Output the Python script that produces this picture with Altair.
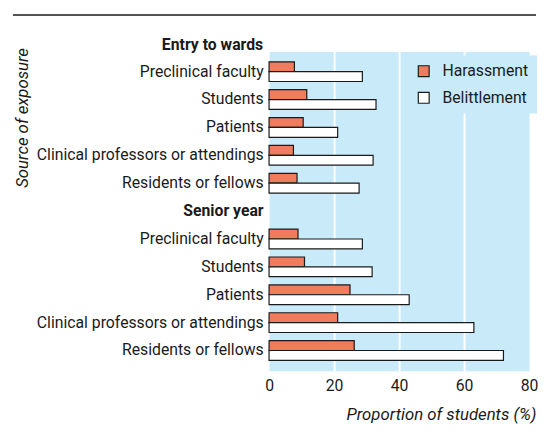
import altair as alt
import pandas as pd

FONT = "Roboto"
TEXT = "#1a1a1a"
BLUE = "#C8EAF9"
ORANGE = "#F07B5D"

groups = ["Entry to wards", "Senior year"]
sources = ["Preclinical faculty", "Students", "Patients",
           "Clinical professors or attendings", "Residents or fellows"]
series = ["Harassment", "Belittlement"]

harassment_entry = [7.8, 11.6, 10.5, 7.5, 8.6]
belittlement_entry = [28.7, 32.9, 21.1, 32.0, 27.7]
harassment_senior = [8.9, 10.9, 24.9, 21.1, 26.2]
belittlement_senior = [28.7, 31.7, 43.1, 63.0, 72.1]

x_ticks = [0, 20, 40, 60, 80]

rows = []
for g, hv, bv in [(groups[0], harassment_entry, belittlement_entry),
                  (groups[1], harassment_senior, belittlement_senior)]:
    for s, h, b in zip(sources, hv, bv):
        key = f"{g}|{s}"
        rows.append({"key": key, "series": series[0], "value": h})
        rows.append({"key": key, "series": series[1], "value": b})
df = pd.DataFrame(rows)

y_domain = ([f"{groups[0]}|{s}" for s in sources]
            + [f"{groups[1]}|{groups[1]}"]
            + [f"{groups[1]}|{s}" for s in sources])

bars = alt.Chart(df).mark_bar(stroke=TEXT, strokeWidth=1.2).encode(
    x=alt.X("value:Q",
            scale=alt.Scale(domain=[0, 80], nice=False),
            axis=alt.Axis(values=x_ticks, grid=True, gridColor="white", gridWidth=2,
                          gridOpacity=alt.ExprRef("datum.value > 0 && datum.value < 80 ? 1 : 0"),
                          domain=False, ticks=False, labelPadding=7, labelFlush=False,
                          labelFont=FONT, labelFontSize=16, labelColor=TEXT,
                          title="Proportion of students (%)",
                          titleFont=FONT, titleFontSize=17, titleFontStyle="italic",
                          titleFontWeight="normal", titleColor=TEXT,
                          titleX=271, titleY=45, titleAlign="right", titleBaseline="middle")),
    y=alt.Y("key:N", sort=None,
            scale=alt.Scale(domain=y_domain, paddingInner=0.293, paddingOuter=0.37),
            axis=alt.Axis(domain=False, ticks=False, grid=False, labelPadding=6,
                          labelExpr="split(datum.label, '|')[1]",
                          labelFontWeight=alt.ExprRef("indexof(datum.value, '|Senior year') >= 0 ? 'bold' : 'normal'"),
                          labelFont=FONT, labelFontSize=16, labelColor=TEXT, labelLimit=400,
                          title="Source of exposure",
                          titleFont=FONT, titleFontSize=17, titleFontStyle="italic",
                          titleFontWeight="normal", titleColor=TEXT,
                          titleX=-250, titleY=-4, titleAngle=270,
                          titleAlign="right", titleBaseline="middle")),
    yOffset=alt.YOffset("series:N", sort=series,
                        scale=alt.Scale(domain=series, paddingInner=0, paddingOuter=0)),
    color=alt.Color("series:N",
                    scale=alt.Scale(domain=series, range=[ORANGE, "white"]),
                    legend=alt.Legend(title=None, orient="none", legendX=141, legendY=4,
                                      fillColor=BLUE, padding=8, symbolType="square",
                                      symbolSize=121, symbolStrokeColor=TEXT,
                                      symbolStrokeWidth=1.2, labelFont=FONT,
                                      labelFontSize=16, labelColor=TEXT,
                                      labelOffset=11, rowPadding=11)),
)

header = alt.Chart(pd.DataFrame({"label": [groups[0]]})).mark_text(
    align="right", baseline="middle", font=FONT, fontSize=16,
    fontWeight="bold", color=TEXT
).encode(x=alt.value(-6), y=alt.value(-7), text="label:N")

top_rule = alt.Chart(pd.DataFrame({"a": [0]})).mark_rule(
    color=TEXT, strokeWidth=1.5
).encode(x=alt.value(-260), x2=alt.value(271), y=alt.value(-37))

chart = alt.layer(bars, header, top_rule).properties(
    width=264, height=324,
    padding={"left": 4, "top": 3, "right": 0, "bottom": 0},
    background="white",
).configure_view(fill=BLUE, stroke="transparent")

chart.save("out.html", embed_options={"renderer": "svg", "actions": False})
